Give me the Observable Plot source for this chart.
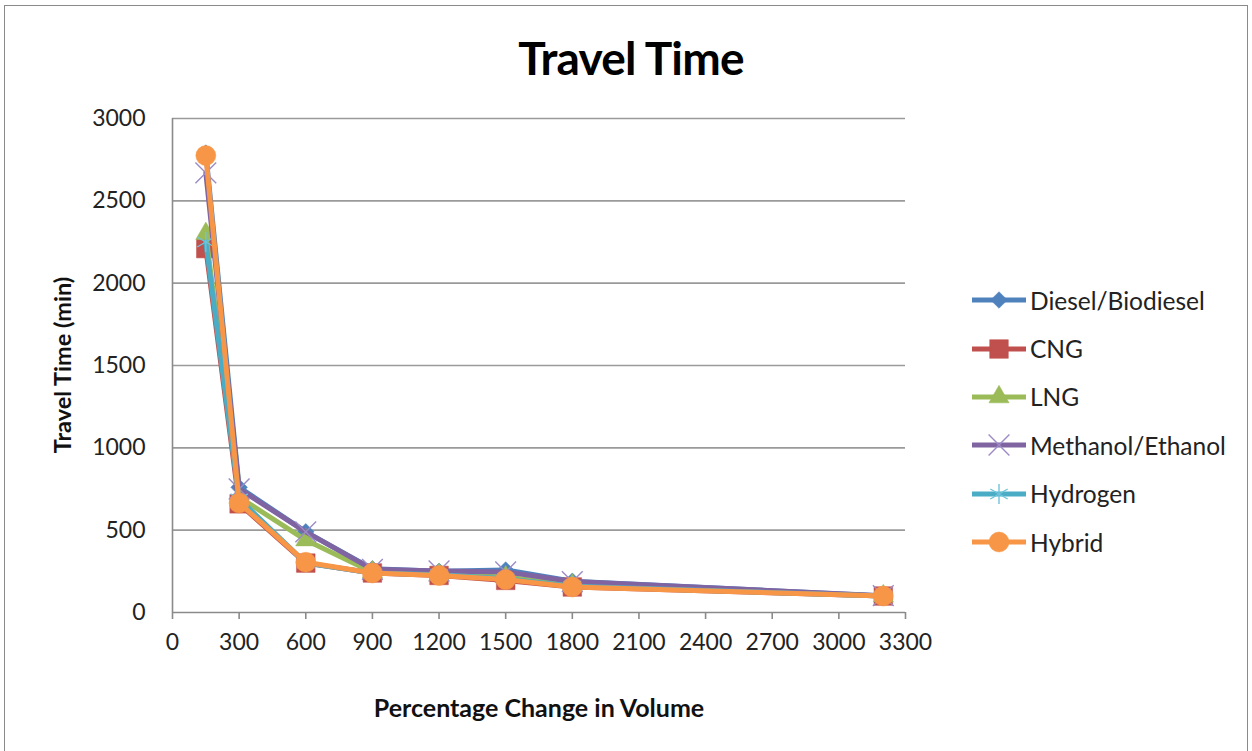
<!DOCTYPE html>
<html>
<head>
<meta charset="utf-8">
<script src="https://cdn.jsdelivr.net/npm/d3@7"></script>
<script src="https://cdn.jsdelivr.net/npm/@observablehq/plot@0.6"></script>
<style>
  html, body { margin: 0; padding: 0; background: #fff; }
  body { width: 1252px; height: 751px; overflow: hidden; font-family: Lato, "Open Sans", sans-serif; color: #222; }
  #wrap { position: relative; width: 1252px; height: 751px; }
  #frame { position: absolute; left: 4px; top: 5px; width: 1244px; height: 760px; border: 1.5px solid #8a8a8a; box-sizing: border-box; pointer-events: none; }
  #title { position: absolute; left: 631px; top: 57px; transform: translate(-50%, -50%); font-size: 46px; font-weight: bold; color: #000; letter-spacing: -0.8px; white-space: nowrap; }
  #ytitle { position: absolute; left: 62px; top: 365px; transform: translate(-50%, -50%) rotate(-90deg); font-size: 23.5px; font-weight: bold; white-space: nowrap; color: #111; }
  #xtitle { position: absolute; left: 539px; top: 707px; transform: translate(-50%, -50%); font-size: 25px; font-weight: bold; white-space: nowrap; color: #111; }
  #legend { position: absolute; left: 970px; top: 276px; }
  .item { display: flex; align-items: center; height: 48.4px; font-size: 24.5px; color: #222; white-space: nowrap; }
  .item svg { margin-right: 2px; }
  #chart { position: absolute; left: 0; top: 0; }
</style>
</head>
<body>
<div id="wrap">
  <div id="chart"></div>
  <div id="title">Travel Time</div>
  <div id="ytitle">Travel Time (min)</div>
  <div id="xtitle">Percentage Change in Volume</div>
  <div id="legend"></div>
  <div id="frame"></div>
</div>
<script>
// ---- data ----
const xValues = [150, 300, 600, 900, 1200, 1500, 1800, 3200];
const seriesNames = ["Diesel/Biodiesel", "CNG", "LNG", "Methanol/Ethanol", "Hydrogen", "Hybrid"];
const diesel   = [2790, 760, 490, 265, 250, 258, 190, 100];
const cng      = [2210, 660, 300, 240, 225, 195, 155, 100];
const lng      = [2300, 700, 440, 245, 230, 215, 165, 100];
const methanol = [2670, 750, 490, 262, 252, 246, 188, 102];
const hydrogen = [2250, 690, 300, 240, 230, 205, 160, 100];
const hybrid   = [2775, 665, 305, 240, 225, 200, 155, 100];
const xTicks = [0, 300, 600, 900, 1200, 1500, 1800, 2100, 2400, 2700, 3000, 3300];
const yTicks = [0, 500, 1000, 1500, 2000, 2500, 3000];

const seriesValues = [diesel, cng, lng, methanol, hydrogen, hybrid];
const colors = ["#4F81BD", "#C0504D", "#9BBB59", "#8064A2", "#4BACC6", "#F79646"];
const markerStroke = ["#4F81BD", "#C0504D", "#9BBB59", "#9C8BC6", "#6FC4DA", "#F79646"];
const symbols = ["diamond2", "square", "triangle", "times", "asterisk", "circle"];
const filled = [true, true, true, false, false, true];
const radii = [7.5, 10.5, 7.5, 9.5, 9.5, 10];

const marks = [
  Plot.ruleY(yTicks.filter(d => d > 0), {stroke: "#9a9a9a", strokeWidth: 1.6}),
  Plot.ruleX([0], {stroke: "#8a8a8a", strokeWidth: 1.6}),
  Plot.ruleY([0], {stroke: "#8a8a8a", strokeWidth: 1.6}),
  Plot.axisX({ticks: xTicks, tickSize: 7, tickPadding: 14, label: null, stroke: "#8a8a8a", strokeWidth: 1.6, fontSize: 23, tickFormat: d => String(d)}),
  Plot.axisY({ticks: yTicks, tickSize: 0, tickPadding: 27, label: null, fontSize: 23, tickFormat: d => String(d)})
];

seriesNames.forEach((name, i) => {
  const rows = xValues.map((x, j) => ({x, y: seriesValues[i][j]}));
  marks.push(Plot.line(rows, {x: "x", y: "y", stroke: colors[i], strokeWidth: 5, strokeLinejoin: "round"}));
  marks.push(Plot.dot(rows, filled[i]
    ? {x: "x", y: "y", symbol: () => symbols[i], r: radii[i], fill: colors[i], stroke: colors[i], strokeWidth: 0.5}
    : {x: "x", y: "y", symbol: () => symbols[i], r: radii[i], fill: "none", stroke: markerStroke[i], strokeWidth: 1.4}));
});

const chart = Plot.plot({
  width: 1252,
  height: 751,
  marginLeft: 172,
  marginRight: 347,
  marginTop: 118,
  marginBottom: 139,
  style: {fontFamily: "Lato, 'Open Sans', sans-serif", fontSize: "23px", color: "#222", background: "transparent"},
  x: {domain: [0, 3300]},
  y: {domain: [0, 3000]},
  symbol: {type: "identity"},
  marks
});
document.getElementById("chart").appendChild(chart);

// ---- legend ----
const legend = d3.select("#legend");
const symMap = {diamond2: d3.symbolDiamond2, square: d3.symbolSquare, triangle: d3.symbolTriangle,
                times: d3.symbolTimes, asterisk: d3.symbolAsterisk, circle: d3.symbolCircle};
seriesNames.forEach((name, i) => {
  const item = legend.append("div").attr("class", "item");
  const svg = item.append("svg").attr("width", 58).attr("height", 26);
  svg.append("line").attr("x1", 2).attr("x2", 56).attr("y1", 13).attr("y2", 13)
    .attr("stroke", colors[i]).attr("stroke-width", 5);
  const r = radii[i];
  const path = d3.symbol(symMap[symbols[i]], Math.PI * r * r)();
  svg.append("path").attr("d", path).attr("transform", "translate(29,13)")
    .attr("fill", filled[i] ? colors[i] : "none")
    .attr("stroke", filled[i] ? colors[i] : markerStroke[i])
    .attr("stroke-width", filled[i] ? 0.5 : 1.4);
  item.append("span").text(name);
});
</script>
</body>
</html>
